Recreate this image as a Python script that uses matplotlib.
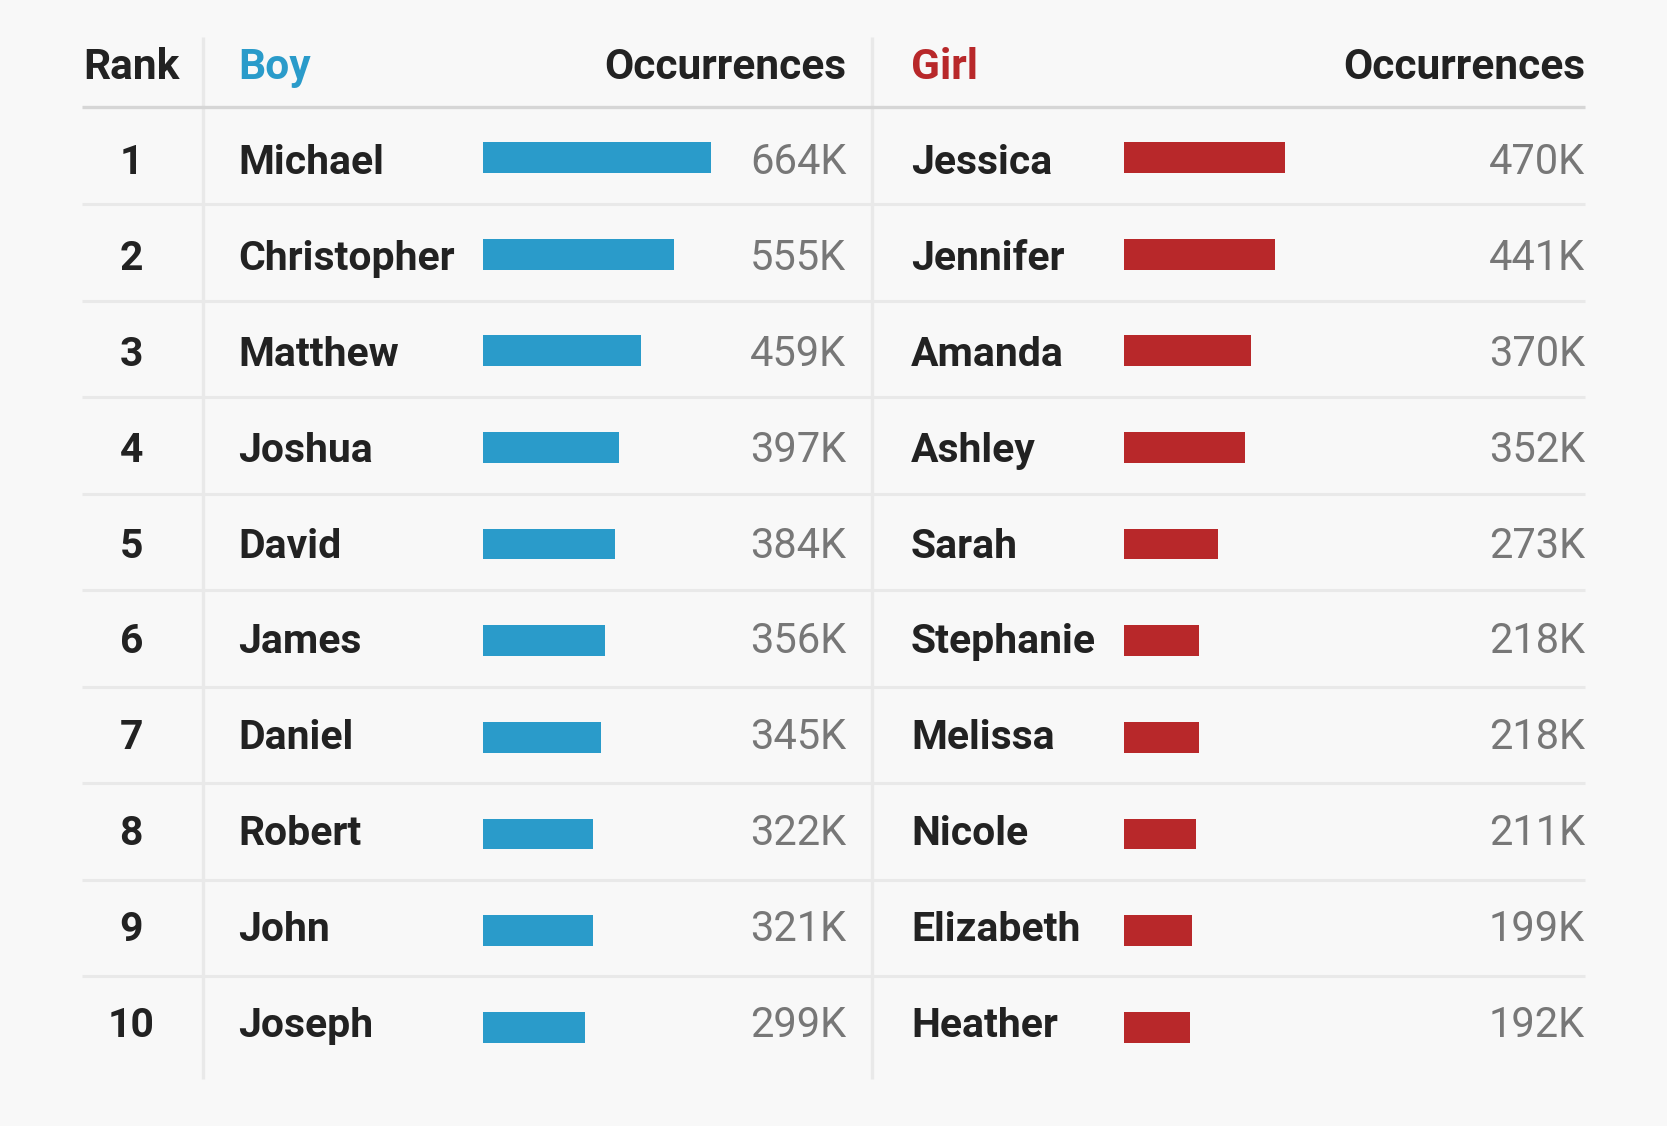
import matplotlib
matplotlib.use("Agg")
import matplotlib.pyplot as plt
import numpy as np

ranks = list(range(1, 11))
boys = ["Michael", "Christopher", "Matthew", "Joshua", "David", "James",
        "Daniel", "Robert", "John", "Joseph"]
boy_values = [664, 555, 459, 397, 384, 356, 345, 322, 321, 299]
girls = ["Jessica", "Jennifer", "Amanda", "Ashley", "Sarah", "Stephanie",
         "Melissa", "Nicole", "Elizabeth", "Heather"]
girl_values = [470, 441, 370, 352, 273, 218, 218, 211, 199, 192]
headers = ["Rank", "Boy", "Occurrences", "Girl", "Occurrences"]

BG = "#f8f8f8"
BLUE = "#2a9bca"
RED = "#b8282a"
DARK = "#222222"
GREY = "#777777"
GRID = "#e9e9e9"
HEAD_LINE = "#d6d6d6"

FONT = "Roboto"
FS_NAME = 29.4
FS_VAL = 30
FS_HEAD = 30.6

W, H = 1568, 1059
fig = plt.figure(figsize=(16.67, 11.26), dpi=100, facecolor=BG)
ax = fig.add_axes([0, 0, 1, 1])
ax.set_facecolor(BG)
ax.set_xlim(0, W)
ax.set_ylim(H, 0)
ax.axis("off")

n = len(ranks)
idx = np.arange(n)
# layout
text_base = 164 + 90.1 * idx
bar_center = 148.1 + 90.9 * idx
sep_y = 192 + 90.75 * np.arange(n - 1)
x_left, x_right = 77, 1491
x_rank = 123.5
x_div1, x_div2 = 190.5, 820
x_boy, x_boy_bar, x_boy_val = 224, 454, 796
x_girl, x_girl_bar, x_girl_val = 857, 1057, 1491
scale = 0.3235
bar_h = 29
head_base = 74

# vertical dividers
for xd in (x_div1, x_div2):
    ax.plot([xd, xd], [35, 1015], color=GRID, lw=2.4, solid_capstyle="butt", zorder=1)

# header underline
ax.plot([x_left, x_right], [101, 101], color=HEAD_LINE, lw=2.4, solid_capstyle="butt", zorder=2)
# row separators
for y in sep_y:
    ax.plot([x_left, x_right], [y, y], color=GRID, lw=2.2, solid_capstyle="butt", zorder=2)

# headers
hkw = dict(fontsize=FS_HEAD, fontweight="bold", family=FONT, va="baseline")
ax.text(x_rank, head_base, headers[0], ha="center", color=DARK, **hkw)
ax.text(x_boy, head_base, headers[1], ha="left", color=BLUE, **hkw)
ax.text(x_boy_val, head_base, headers[2], ha="right", color=DARK, **hkw)
ax.text(x_girl, head_base, headers[3], ha="left", color=RED, **hkw)
ax.text(x_girl_val, head_base, headers[4], ha="right", color=DARK, **hkw)

# bars
ax.barh(bar_center, np.array(boy_values) * scale, left=x_boy_bar, height=bar_h,
        color=BLUE, zorder=3)
ax.barh(bar_center, np.array(girl_values) * scale, left=x_girl_bar, height=bar_h,
        color=RED, zorder=3)

# rows
for r, yb, bn, bv, gn, gv in zip(ranks, text_base, boys, boy_values, girls, girl_values):
    ax.text(x_rank, yb, str(r), ha="center", va="baseline", fontsize=FS_NAME,
            fontweight="bold", family=FONT, color=DARK)
    ax.text(x_boy, yb, bn, ha="left", va="baseline", fontsize=FS_NAME,
            fontweight="bold", family=FONT, color=DARK)
    ax.text(x_boy_val, yb, f"{bv}K", ha="right", va="baseline", fontsize=FS_VAL,
            family=FONT, color=GREY)
    ax.text(x_girl, yb, gn, ha="left", va="baseline", fontsize=FS_NAME,
            fontweight="bold", family=FONT, color=DARK)
    ax.text(x_girl_val, yb, f"{gv}K", ha="right", va="baseline", fontsize=FS_VAL,
            family=FONT, color=GREY)

fig.savefig("out.png", dpi=100, facecolor=BG)
